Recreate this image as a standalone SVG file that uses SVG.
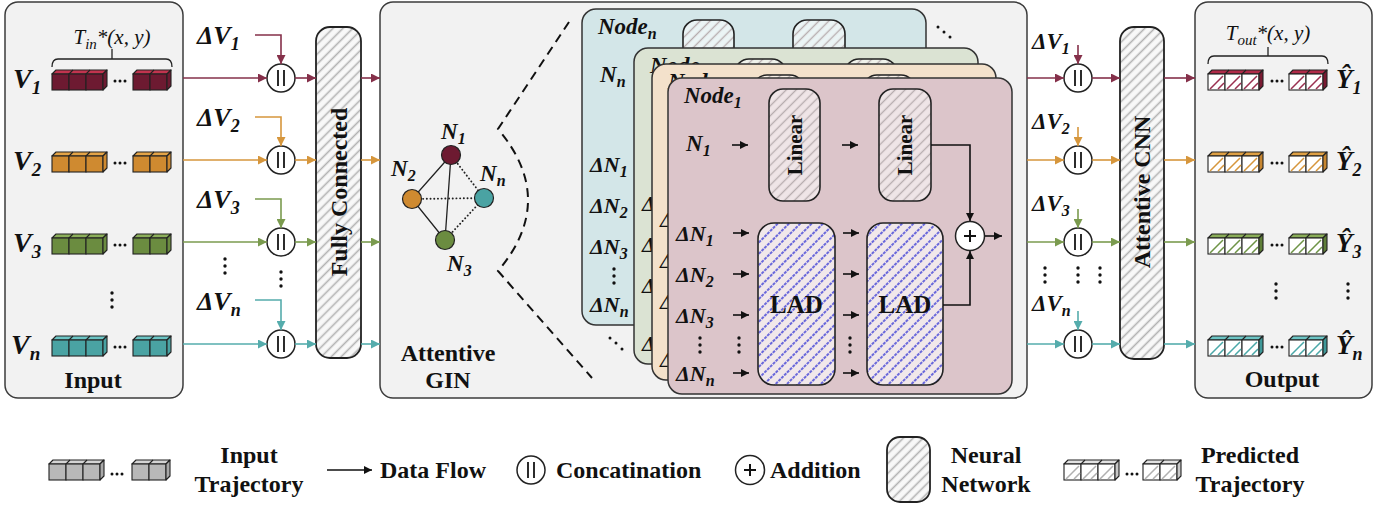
<svg xmlns="http://www.w3.org/2000/svg" xmlns:xlink="http://www.w3.org/1999/xlink" width="1390" height="505" viewBox="0 0 1390 505">
<style>
  text{font-family:"Liberation Serif","Times New Roman",serif;fill:#111}
  .b{font-weight:bold}
  .bi{font-weight:bold;font-style:italic}
  .it{font-style:italic}
  .panel{fill:#f2f2f2;stroke:#3c3c3c;stroke-width:1.5}
  .nn{fill:url(#hGrey);stroke:#222;stroke-width:1.8}
  .lin{fill:url(#hLin);stroke:#222;stroke-width:1.6}
  .lad{fill:url(#hBlue);stroke:#222;stroke-width:1.6}
  .ln{fill:none;stroke-width:1.6}
  .blk{stroke:#111}
  .c1{stroke:#85304a}.c2{stroke:#d6963c}.c3{stroke:#7b9b4f}.c4{stroke:#55acac}
  .cat{fill:#fff;stroke:#222;stroke-width:1.5}
  .bar{stroke:#222;stroke-width:1.9;fill:none}
  .card{stroke:#333;stroke-width:1.5}
  .ct{fill:var(--t);stroke:#222;stroke-width:1.1;stroke-linejoin:round}
  .cf{fill:var(--f);stroke:#222;stroke-width:1.1}
  .cs{fill:var(--s);stroke:#222;stroke-width:1.1;stroke-linejoin:round}
  .ce{fill:none;stroke:#222;stroke-width:1.1}
  .pf{fill:#fff;stroke:#222;stroke-width:1.1}
  .ph{fill:none;stroke:var(--h);stroke-width:1.5}
  .dot{fill:#111}
  .edge{stroke:#222;stroke-width:1.3;fill:none}
  .dotted{stroke:#222;stroke-width:1.9;fill:none;stroke-dasharray:0.1 3.6;stroke-linecap:round}
</style>
<defs>
  <!-- hatch fills -->
  <pattern id="hGrey" width="7" height="7" patternUnits="userSpaceOnUse" patternTransform="rotate(45)">
    <rect width="7" height="7" fill="#f8f8f8"/>
    <line x1="3.5" y1="0" x2="3.5" y2="7" stroke="#b2b2b2" stroke-width="1.6"/>
  </pattern>
  <pattern id="hLin" width="7" height="7" patternUnits="userSpaceOnUse" patternTransform="rotate(45)">
    <rect width="7" height="7" fill="#ffffff" fill-opacity="0.55"/>
    <line x1="3.5" y1="0" x2="3.5" y2="7" stroke="#b8aeb0" stroke-width="1.4"/>
  </pattern>
  <pattern id="hBlue" width="8" height="8" patternUnits="userSpaceOnUse" patternTransform="rotate(45)">
    <rect width="8" height="8" fill="#ffffff" fill-opacity="0.6"/>
    <line x1="4" y1="0" x2="4" y2="8" stroke="#5252d8" stroke-width="1.7" stroke-dasharray="3 1"/>
  </pattern>

  <!-- arrowheads -->
  <marker id="aBlk" viewBox="0 0 10 10" refX="10" refY="5" markerWidth="8" markerHeight="8" markerUnits="userSpaceOnUse" orient="auto"><path d="M0,0 L10,5 L0,10 z" fill="#111"/></marker>
  <marker id="aMar" viewBox="0 0 10 10" refX="10" refY="5" markerWidth="10" markerHeight="9" markerUnits="userSpaceOnUse" orient="auto"><path d="M0,0 L10,5 L0,10 z" fill="#85304a"/></marker>
  <marker id="aOra" viewBox="0 0 10 10" refX="10" refY="5" markerWidth="10" markerHeight="9" markerUnits="userSpaceOnUse" orient="auto"><path d="M0,0 L10,5 L0,10 z" fill="#d6963c"/></marker>
  <marker id="aGre" viewBox="0 0 10 10" refX="10" refY="5" markerWidth="10" markerHeight="9" markerUnits="userSpaceOnUse" orient="auto"><path d="M0,0 L10,5 L0,10 z" fill="#7b9b4f"/></marker>
  <marker id="aTea" viewBox="0 0 10 10" refX="10" refY="5" markerWidth="10" markerHeight="9" markerUnits="userSpaceOnUse" orient="auto"><path d="M0,0 L10,5 L0,10 z" fill="#55acac"/></marker>

  <!-- trajectory blocks -->
  <g id="cube3">
    <polygon class="ct" points="0,4 4,0 55,0 51,4"/>
    <path class="ce" d="M17,4 L21,0 M34,4 L38,0"/>
    <rect class="cf" x="0" y="4" width="17" height="16"/>
    <rect class="cf" x="17" y="4" width="17" height="16"/>
    <rect class="cf" x="34" y="4" width="17" height="16"/>
    <polygon class="cs" points="51,4 55,0 55,16 51,20"/>
  </g>
  <g id="cube2">
    <polygon class="ct" points="0,4 4,0 38,0 34,4"/>
    <path class="ce" d="M17,4 L21,0"/>
    <rect class="cf" x="0" y="4" width="17" height="16"/>
    <rect class="cf" x="17" y="4" width="17" height="16"/>
    <polygon class="cs" points="34,4 38,0 38,16 34,20"/>
  </g>
  <g id="pcube3">
    <polygon class="ct" points="0,4 4,0 55,0 51,4"/>
    <path class="ce" d="M17,4 L21,0 M34,4 L38,0"/>
    <rect class="pf" x="0" y="4" width="17" height="16"/>
    <rect class="pf" x="17" y="4" width="17" height="16"/>
    <rect class="pf" x="34" y="4" width="17" height="16"/>
    <path class="ph" d="M2,19 L15,6 M10,19 L16,13 M19,19 L32,6 M27,19 L33,13 M36,19 L49,6 M44,19 L50,13"/>
    <polygon class="cs" points="51,4 55,0 55,16 51,20"/>
  </g>
  <g id="pcube2">
    <polygon class="ct" points="0,4 4,0 38,0 34,4"/>
    <path class="ce" d="M17,4 L21,0"/>
    <rect class="pf" x="0" y="4" width="17" height="16"/>
    <rect class="pf" x="17" y="4" width="17" height="16"/>
    <path class="ph" d="M2,19 L15,6 M10,19 L16,13 M19,19 L32,6 M27,19 L33,13"/>
    <polygon class="cs" points="34,4 38,0 38,16 34,20"/>
  </g>
  <g id="hdots"><circle class="dot" cx="0" cy="0" r="1.5"/><circle class="dot" cx="5" cy="0" r="1.5"/><circle class="dot" cx="10" cy="0" r="1.5"/></g>
  <g id="vdots"><circle class="dot" cx="0" cy="0" r="1.7"/><circle class="dot" cx="0" cy="7" r="1.7"/><circle class="dot" cx="0" cy="14" r="1.7"/></g>
  <g id="cat"><circle r="14" class="cat"/><path class="bar" d="M-3,-8 V8 M3,-8 V8"/></g>
  <g id="plus"><circle r="14.5" class="cat"/><path d="M-6,0 H6 M0,-6 V6" stroke="#111" stroke-width="2"/></g>

  <!-- shared body of one node card (drawn at the front card position) -->
  <g id="cardBody">
    <rect class="lin" x="769" y="89" width="51" height="112" rx="14"/>
    <rect class="lin" x="879" y="89" width="52" height="112" rx="14"/>
    <rect class="lad" x="758" y="223" width="77" height="162" rx="16"/>
    <rect class="lad" x="867" y="223" width="76" height="162" rx="16"/>
    <g class="ln blk" marker-end="url(#aBlk)">
      <path d="M732,145 H748"/>
      <path d="M842,145 H858"/>
      <path d="M733,233 H749"/><path d="M733,274 H749"/><path d="M733,315 H749"/><path d="M733,373 H749"/>
      <path d="M843,233 H859"/><path d="M843,274 H859"/><path d="M843,315 H859"/><path d="M843,373 H859"/>
      <path d="M931,145 H970 V221"/>
      <path d="M943,305 H970 V251"/>
      <path d="M985,236 H1002"/>
    </g>
    <use xlink:href="#plus" x="970" y="236"/>
    <g class="bi" font-size="22">
      <text x="676" y="241">ΔN<tspan dy="5" font-size="16">1</tspan></text>
      <text x="676" y="282">ΔN<tspan dy="5" font-size="16">2</tspan></text>
      <text x="676" y="323">ΔN<tspan dy="5" font-size="16">3</tspan></text>
      <text x="676" y="381">ΔN<tspan dy="5" font-size="16">n</tspan></text>
    </g>
    <use xlink:href="#vdots" x="700" y="338"/>
    <use xlink:href="#vdots" x="739" y="338"/>
    <use xlink:href="#vdots" x="850" y="338"/>
  </g>
</defs>

<!-- Input panel -->
<g id="input">
  <rect class="panel" x="5" y="2" width="178" height="396" rx="13"/>
  <text class="it" font-size="21" x="112" y="44" text-anchor="middle">T<tspan dy="5" font-size="15">in</tspan><tspan dy="-5">*(x, y)</tspan></text>
  <path class="edge" d="M52,67 Q52,59 58,59 H166 Q172,59 172,67 M112,59 V49" stroke-width="1.5"/>
  <g class="bi" font-size="28">
    <text x="13" y="88">V<tspan dy="6" font-size="19">1</tspan></text>
    <text x="13" y="170">V<tspan dy="6" font-size="19">2</tspan></text>
    <text x="13" y="252">V<tspan dy="6" font-size="19">3</tspan></text>
    <text x="11" y="354">V<tspan dy="6" font-size="19">n</tspan></text>
  </g>
  <use xlink:href="#cube3" x="52" y="70" style="--t:#c2344f;--f:#6d1a31;--s:#6d1a31"/>
  <use xlink:href="#hdots" x="115" y="81"/>
  <use xlink:href="#cube2" x="133" y="70" style="--t:#c2344f;--f:#6d1a31;--s:#6d1a31"/>
  <use xlink:href="#cube3" x="52" y="152" style="--t:#e4a447;--f:#cf8a30;--s:#cf8a30"/>
  <use xlink:href="#hdots" x="115" y="163"/>
  <use xlink:href="#cube2" x="133" y="152" style="--t:#e4a447;--f:#cf8a30;--s:#cf8a30"/>
  <use xlink:href="#cube3" x="52" y="234" style="--t:#8caf5a;--f:#6b8c40;--s:#6b8c40"/>
  <use xlink:href="#hdots" x="115" y="245"/>
  <use xlink:href="#cube2" x="133" y="234" style="--t:#8caf5a;--f:#6b8c40;--s:#6b8c40"/>
  <use xlink:href="#cube3" x="52" y="336" style="--t:#6cc4c4;--f:#4aa3a3;--s:#4aa3a3"/>
  <use xlink:href="#hdots" x="115" y="347"/>
  <use xlink:href="#cube2" x="133" y="336" style="--t:#6cc4c4;--f:#4aa3a3;--s:#4aa3a3"/>
  <use xlink:href="#vdots" x="112" y="293"/>
  <text class="b" font-size="24" x="93" y="388" text-anchor="middle">Input</text>
</g>

<!-- delta labels and concatenation on the input side -->
<g id="concatIn">
  <g class="bi" font-size="26">
    <text x="197" y="44">ΔV<tspan dy="6" font-size="18">1</tspan></text>
    <text x="197" y="126">ΔV<tspan dy="6" font-size="18">2</tspan></text>
    <text x="197" y="208">ΔV<tspan dy="6" font-size="18">3</tspan></text>
    <text x="197" y="310">ΔV<tspan dy="6" font-size="18">n</tspan></text>
  </g>
  <use xlink:href="#cat" x="281" y="78"/>
  <use xlink:href="#cat" x="281" y="160"/>
  <use xlink:href="#cat" x="281" y="242"/>
  <use xlink:href="#cat" x="281" y="344"/>
  <use xlink:href="#vdots" x="225" y="259"/>
  <use xlink:href="#vdots" x="281" y="272"/>
</g>

<!-- Fully connected layer -->
<g id="fc">
  <rect class="nn" x="316" y="27" width="45" height="331" rx="14"/>
  <text class="b" font-size="24" text-anchor="middle" transform="translate(338.5,192) rotate(-90)" dy="8">Fully Connected</text>
</g>

<!-- Attentive GIN panel -->
<g id="gin">
  <rect class="panel" x="380" y="2" width="647" height="396" rx="13"/>
  <path class="edge" d="M451,155 L412,199 L445,240 Z M451,155 L445,240"/>
  <path class="dotted" d="M451,155 L484,198 M412,199 L484,198 M445,240 L484,198"/>
  <circle cx="451" cy="155" r="9.5" fill="#6d1a31" stroke="#222" stroke-width="1.2"/>
  <circle cx="412" cy="199" r="9.5" fill="#cf8a30" stroke="#222" stroke-width="1.2"/>
  <circle cx="484" cy="198" r="9.5" fill="#4aa3a3" stroke="#222" stroke-width="1.2"/>
  <circle cx="445" cy="240" r="9.5" fill="#6b8c40" stroke="#222" stroke-width="1.2"/>
  <g class="bi" font-size="23">
    <text x="441" y="139">N<tspan dy="5" font-size="16">1</tspan></text>
    <text x="391" y="176">N<tspan dy="5" font-size="16">2</tspan></text>
    <text x="480" y="181">N<tspan dy="5" font-size="16">n</tspan></text>
    <text x="447" y="271">N<tspan dy="5" font-size="16">3</tspan></text>
  </g>
  <path d="M569,22 L498,129 Q558,200 498,271 L592,378" fill="none" stroke="#111" stroke-width="2" stroke-dasharray="9 6"/>
  <text class="b" font-size="24" x="448" y="361" text-anchor="middle">Attentive</text>
  <text class="b" font-size="24" x="448" y="388" text-anchor="middle">GIN</text>
  <circle class="dot" cx="938" cy="27" r="1.5"/><circle class="dot" cx="944" cy="32" r="1.5"/><circle class="dot" cx="950" cy="37" r="1.5"/>
  <circle class="dot" cx="610" cy="338" r="1.5"/><circle class="dot" cx="616" cy="343" r="1.5"/><circle class="dot" cx="622" cy="349" r="1.5"/>
</g>

<!-- node cards, back to front -->
<g id="nodeN" transform="translate(-86,-69)">
  <rect class="card" x="668" y="78" width="344" height="316" rx="14" fill="#d3e6e8"/>
  <use xlink:href="#cardBody"/>
  <text class="bi" font-size="23" x="684" y="103">Node<tspan dy="5" font-size="16">n</tspan></text>
  <text class="bi" font-size="23" x="686" y="151">N<tspan dy="5" font-size="16">n</tspan></text>
</g>
<g id="node2" transform="translate(-34,-30)">
  <rect class="card" x="668" y="78" width="344" height="316" rx="14" fill="#dbe3d3"/>
  <use xlink:href="#cardBody"/>
  <text class="bi" font-size="23" x="684" y="103">Node</text>
</g>
<g id="node3" transform="translate(-16,-14)">
  <rect class="card" x="668" y="78" width="344" height="316" rx="14" fill="#f3e1cb"/>
  <use xlink:href="#cardBody"/>
  <text class="bi" font-size="23" x="684" y="103">Node</text>
</g>
<g id="node1">
  <rect class="card" x="668" y="78" width="344" height="316" rx="14" fill="#dcc5ca"/>
  <use xlink:href="#cardBody"/>
  <text class="b" font-size="21" text-anchor="middle" transform="translate(794.5,145) rotate(-90)" dy="7">Linear</text>
  <text class="b" font-size="21" text-anchor="middle" transform="translate(905,145) rotate(-90)" dy="7">Linear</text>
  <text class="b" font-size="25" text-anchor="middle" x="796.5" y="313">LAD</text>
  <text class="b" font-size="25" text-anchor="middle" x="905" y="313">LAD</text>
  <text class="bi" font-size="23" x="684" y="103">Node<tspan dy="5" font-size="16">1</tspan></text>
  <text class="bi" font-size="23" x="686" y="151">N<tspan dy="5" font-size="16">1</tspan></text>
</g>

<!-- delta labels and concatenation on the output side -->
<g id="concatOut">
  <g class="bi" font-size="23">
    <text x="1032" y="49">ΔV<tspan dy="5" font-size="16">1</tspan></text>
    <text x="1032" y="129">ΔV<tspan dy="5" font-size="16">2</tspan></text>
    <text x="1032" y="211">ΔV<tspan dy="5" font-size="16">3</tspan></text>
    <text x="1032" y="311">ΔV<tspan dy="5" font-size="16">n</tspan></text>
  </g>
  <use xlink:href="#cat" x="1078" y="78"/>
  <use xlink:href="#cat" x="1078" y="160"/>
  <use xlink:href="#cat" x="1078" y="242"/>
  <use xlink:href="#cat" x="1078" y="344"/>
  <use xlink:href="#vdots" x="1045" y="268"/>
  <use xlink:href="#vdots" x="1078" y="268"/>
  <use xlink:href="#vdots" x="1100" y="268"/>
</g>

<!-- Attentive CNN -->
<g id="cnn">
  <rect class="nn" x="1120" y="27" width="44" height="332" rx="14"/>
  <text class="b" font-size="24" text-anchor="middle" transform="translate(1142,192) rotate(-90)" dy="8">Attentive CNN</text>
</g>

<!-- Output panel -->
<g id="output">
  <rect class="panel" x="1195" y="2" width="177" height="396" rx="13"/>
  <text class="it" font-size="21" x="1268" y="40" text-anchor="middle">T<tspan dy="5" font-size="15">out</tspan><tspan dy="-5">*(x, y)</tspan></text>
  <path class="edge" d="M1208,64 Q1208,56 1214,56 H1322 Q1328,56 1328,64 M1268,56 V47" stroke-width="1.5"/>
  <use xlink:href="#pcube3" x="1208" y="70" style="--t:#b02a48;--s:#7a1a32;--h:#9a3050"/>
  <use xlink:href="#hdots" x="1272" y="81"/>
  <use xlink:href="#pcube2" x="1289" y="70" style="--t:#b02a48;--s:#7a1a32;--h:#9a3050"/>
  <use xlink:href="#pcube3" x="1208" y="152" style="--t:#dfa044;--s:#c78630;--h:#d6963c"/>
  <use xlink:href="#hdots" x="1272" y="163"/>
  <use xlink:href="#pcube2" x="1289" y="152" style="--t:#dfa044;--s:#c78630;--h:#d6963c"/>
  <use xlink:href="#pcube3" x="1208" y="234" style="--t:#8aad58;--s:#5f7f38;--h:#6e9446"/>
  <use xlink:href="#hdots" x="1272" y="245"/>
  <use xlink:href="#pcube2" x="1289" y="234" style="--t:#8aad58;--s:#5f7f38;--h:#6e9446"/>
  <use xlink:href="#pcube3" x="1208" y="336" style="--t:#6cc4c4;--s:#3f9898;--h:#4aa8a8"/>
  <use xlink:href="#hdots" x="1272" y="347"/>
  <use xlink:href="#pcube2" x="1289" y="336" style="--t:#6cc4c4;--s:#3f9898;--h:#4aa8a8"/>
  <g class="bi" font-size="27">
    <text x="1336" y="88">Ŷ<tspan dy="6" font-size="18">1</tspan></text>
    <text x="1336" y="170">Ŷ<tspan dy="6" font-size="18">2</tspan></text>
    <text x="1336" y="252">Ŷ<tspan dy="6" font-size="18">3</tspan></text>
    <text x="1336" y="354">Ŷ<tspan dy="6" font-size="18">n</tspan></text>
  </g>
  <use xlink:href="#vdots" x="1276" y="284"/>
  <use xlink:href="#vdots" x="1348" y="284"/>
  <text class="b" font-size="24" x="1282" y="387" text-anchor="middle">Output</text>
</g>

<!-- connectors -->
<g id="connectors">
  <g class="ln c1" marker-end="url(#aMar)">
    <path d="M183,78 H267"/><path d="M255,35 H281 V64"/><path d="M295,78 H316"/><path d="M361,78 H380"/>
    <path d="M1027,78 H1064"/><path d="M1078,45 V64"/><path d="M1092,78 H1120"/><path d="M1164,78 H1195"/>
  </g>
  <g class="ln c2" marker-end="url(#aOra)">
    <path d="M183,160 H267"/><path d="M255,117 H281 V146"/><path d="M295,160 H316"/><path d="M361,160 H380"/>
    <path d="M1027,160 H1064"/><path d="M1078,127 V146"/><path d="M1092,160 H1120"/><path d="M1164,160 H1195"/>
  </g>
  <g class="ln c3" marker-end="url(#aGre)">
    <path d="M183,242 H267"/><path d="M255,199 H281 V228"/><path d="M295,242 H316"/><path d="M361,242 H380"/>
    <path d="M1027,242 H1064"/><path d="M1078,209 V228"/><path d="M1092,242 H1120"/><path d="M1164,242 H1195"/>
  </g>
  <g class="ln c4" marker-end="url(#aTea)">
    <path d="M183,344 H267"/><path d="M255,300 H281 V330"/><path d="M295,344 H316"/><path d="M361,344 H380"/>
    <path d="M1027,344 H1064"/><path d="M1078,311 V330"/><path d="M1092,344 H1120"/><path d="M1164,344 H1195"/>
  </g>
</g>

<!-- legend -->
<g id="legend">
  <use xlink:href="#cube3" x="49" y="460" style="--t:#d4d4d4;--f:#b8b8b8;--s:#a8a8a8"/>
  <use xlink:href="#hdots" x="112" y="474"/>
  <use xlink:href="#cube2" x="132" y="460" style="--t:#d4d4d4;--f:#b8b8b8;--s:#a8a8a8"/>
  <text class="b" font-size="24" x="249" y="463" text-anchor="middle">Input</text>
  <text class="b" font-size="24" x="249" y="492" text-anchor="middle">Trajectory</text>
  <path class="ln blk" d="M327,470 H372" stroke-width="2" marker-end="url(#aBlk)"/>
  <text class="b" font-size="24" x="380" y="478">Data Flow</text>
  <use xlink:href="#cat" x="531" y="470"/>
  <text class="b" font-size="24" x="556" y="478">Concatination</text>
  <use xlink:href="#plus" x="750" y="470"/>
  <text class="b" font-size="24" x="770" y="478">Addition</text>
  <rect class="nn" x="887" y="437" width="43" height="65" rx="13"/>
  <text class="b" font-size="24" x="986" y="463" text-anchor="middle">Neural</text>
  <text class="b" font-size="24" x="986" y="492" text-anchor="middle">Network</text>
  <use xlink:href="#pcube3" x="1064" y="460" style="--t:#e2e2e2;--s:#c8c8c8;--h:#b0b0b0"/>
  <use xlink:href="#hdots" x="1127" y="474"/>
  <use xlink:href="#pcube2" x="1143" y="460" style="--t:#e2e2e2;--s:#c8c8c8;--h:#b0b0b0"/>
  <text class="b" font-size="24" x="1250" y="463" text-anchor="middle">Predicted</text>
  <text class="b" font-size="24" x="1250" y="492" text-anchor="middle">Trajectory</text>
</g>
</svg>
